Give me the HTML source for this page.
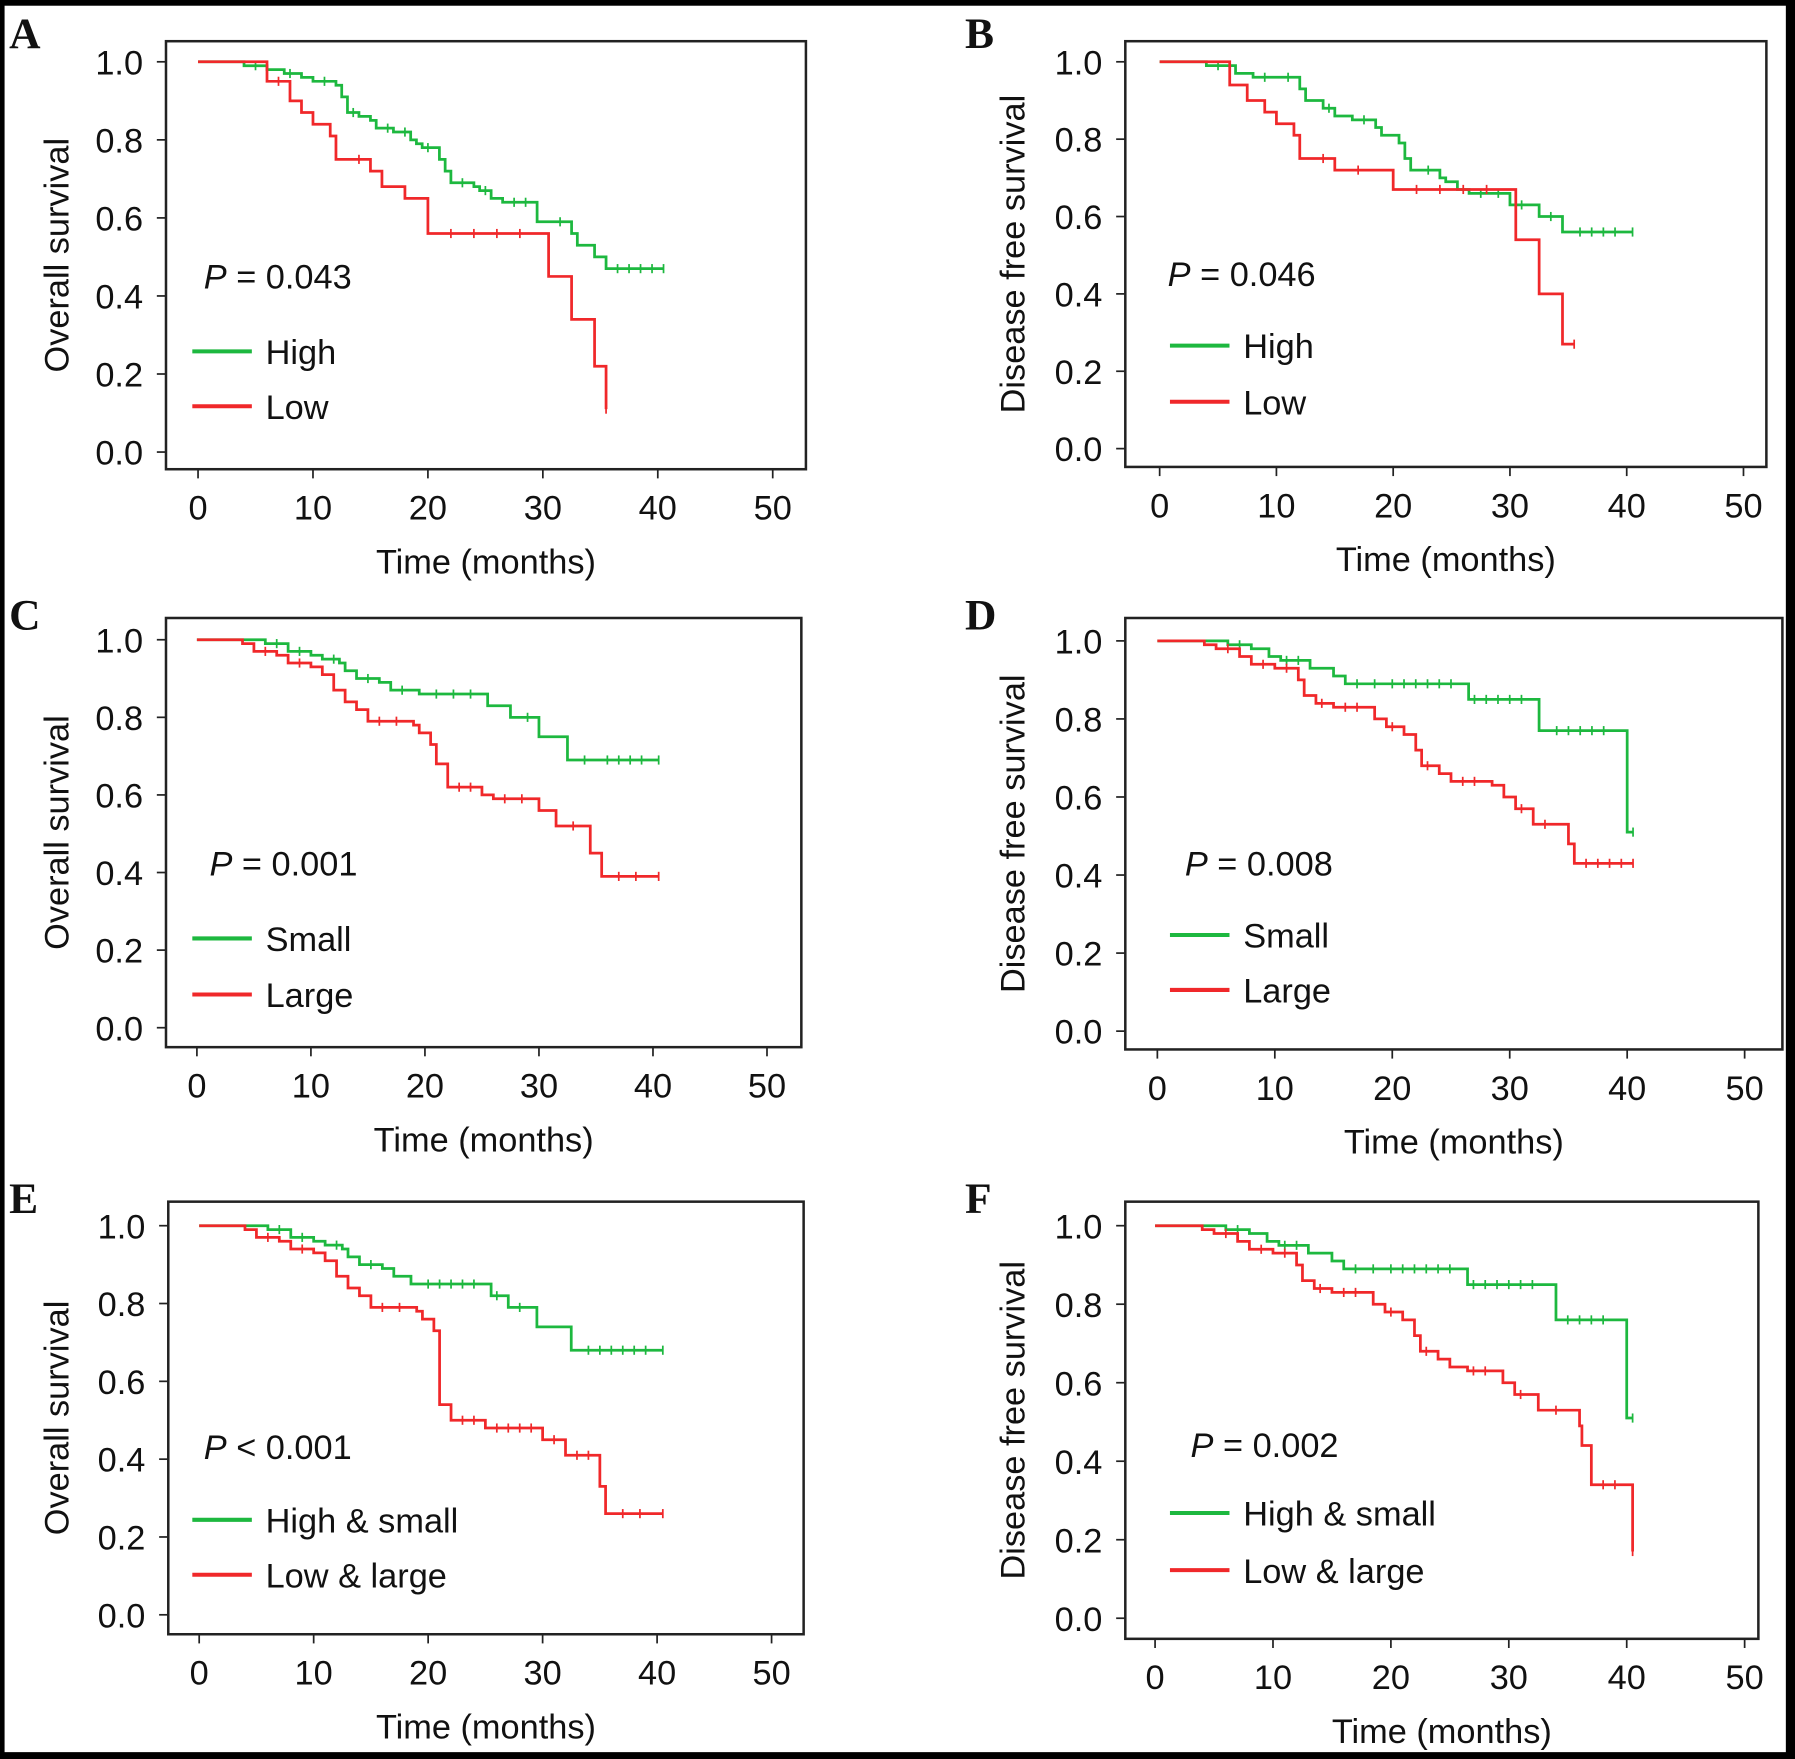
<!DOCTYPE html>
<html><head><meta charset="utf-8"><style>
html,body{margin:0;padding:0;background:#000;}
svg{display:block;}
text{font-family:"Liberation Sans",Arial,sans-serif;fill:#111;}
text.plab{font-family:"Liberation Serif",serif;font-weight:bold;}
</style></head><body>
<svg id="fig" width="1795" height="1759" viewBox="0 0 1568 1537" preserveAspectRatio="none" xmlns="http://www.w3.org/2000/svg">
<rect x="4" y="5" width="1556" height="1526" fill="#fff"/>
</svg>
<script>
// Panel A: expression High vs Low, overall survival
const aHighT=[0,4,6,7.5,9,10,12,12.5,13,14,15,15.5,17,18.5,19,19.5,21,21.5,22,24,24.5,25.5,26.5,29.5,32.5,33,34.5,35.5,40.5];
const aHighS=[1,0.99,0.98,0.97,0.96,0.95,0.94,0.91,0.87,0.86,0.85,0.83,0.82,0.80,0.79,0.78,0.75,0.72,0.69,0.68,0.67,0.65,0.64,0.59,0.56,0.53,0.50,0.47,0.47];
const aHighC=[5,8,11,13.5,16.5,18,20,23,25,27.5,28.5,31.5,36.5,37.5,38.5,39.5,40.5];
const aLowT=[0,6,8,9,10,11.5,12,15,16,18,20,30.5,32.5,34.5,35.5,35.5];
const aLowS=[1,0.95,0.90,0.87,0.84,0.81,0.75,0.72,0.68,0.65,0.56,0.45,0.34,0.22,0.11,0.11];
const aLowC=[7,14,22,24,26,28,35.5];
// Panel B: High vs Low, disease free survival
const bHighT=[0,4,6.5,8,12,12.5,14,15,16.5,18.5,19,20.5,21,21.5,24,24.5,25.5,26.5,30,32.5,34.5,40.5];
const bHighS=[1,0.99,0.97,0.96,0.93,0.90,0.88,0.86,0.85,0.83,0.81,0.79,0.75,0.72,0.70,0.69,0.67,0.66,0.63,0.60,0.56,0.56];
const bHighC=[5,9,11,14.5,17.5,23,27.5,29,31,33.5,36,37,38,39,40.5];
const bLowT=[0,6,7.5,9,10,11.5,12,15,20,30.5,32.5,34.5,35.5];
const bLowS=[1,0.94,0.90,0.87,0.84,0.81,0.75,0.72,0.67,0.54,0.40,0.27,0.27];
const bLowC=[14,17,22,24,26,28,35.5];
// Panel C: Small vs Large, overall survival
const cSmallT=[0,6,8,10,11,12.5,13,14,16,17,19.5,25.5,27.5,30,32.5,40.5];
const cSmallS=[1,0.99,0.97,0.96,0.95,0.94,0.92,0.90,0.89,0.87,0.86,0.83,0.80,0.75,0.69,0.69];
const cSmallC=[7,9,12,15,18,21,22.5,24,29,34,36,37,38,39,40.5];
const cLargeT=[0,4,5,7,8,10,11,12,13,14,15,19,19.5,20.5,21,22,25,26,30,31.5,34.5,35.5,40.5];
const cLargeS=[1,0.99,0.97,0.96,0.94,0.93,0.91,0.87,0.84,0.82,0.79,0.78,0.76,0.73,0.68,0.62,0.60,0.59,0.56,0.52,0.45,0.39,0.39];
const cLargeC=[6,9,16,17.5,23,24,27,28.5,33,37,38.5,40.5];
// Panel D: Small vs Large, disease free survival
const dSmallT=[0,6,8,9.5,10.5,13,15,16,26.5,32.5,40,40.5];
const dSmallS=[1,0.99,0.98,0.96,0.95,0.93,0.91,0.89,0.85,0.77,0.51,0.51];
const dSmallC=[7,11,12,17,18.5,20,21,22,23,24,25,27,28,29,30,31,34,35,36,37,38,40.5];
const dLargeT=[0,4,5,7,8,10,12,12.5,13.5,15,18.5,19.5,21,22,22.5,24,25,28.5,29.5,30.5,32,35,35.5,40.5];
const dLargeS=[1,0.99,0.98,0.96,0.94,0.93,0.90,0.86,0.84,0.83,0.80,0.78,0.76,0.72,0.68,0.66,0.64,0.63,0.60,0.57,0.53,0.48,0.43,0.43];
const dLargeC=[6,9,11,14,16,17,20,23,26,27,31,33,36.5,37.5,38.5,39.5,40.5];
// Panel E: High & small vs Low & large, overall survival
const eGoodT=[0,6,8,10,11,12.5,13,14,16,17,18.5,25.5,27,29.5,32.5,40.5];
const eGoodS=[1,0.99,0.97,0.96,0.95,0.94,0.92,0.90,0.89,0.87,0.85,0.82,0.79,0.74,0.68,0.68];
const eGoodC=[7,9,12,15,20,21,22,23,24,26,28,34,35,36,37,38,39,40.5];
const eBadT=[0,4,5,7,8,10,11,12,13,14,15,19,19.5,20.5,21,22,25,30,32,35,35.5,40.5];
const eBadS=[1,0.99,0.97,0.96,0.94,0.93,0.91,0.87,0.84,0.82,0.79,0.78,0.76,0.73,0.54,0.50,0.48,0.45,0.41,0.33,0.26,0.26];
const eBadC=[6,9,16,17.5,23,24,26,27,28,29,31,33,34,37,38.5,40.5];
// Panel F: High & small vs Low & large, disease free survival
const fGoodT=[0,6,8,9.5,10.5,13,15,16,26.5,34,40,40.5];
const fGoodS=[1,0.99,0.98,0.96,0.95,0.93,0.91,0.89,0.85,0.76,0.51,0.51];
const fGoodC=[7,11,12,17,18.5,20,21,22,23,24,25,27,28,29,30,31,32,35,36,37,38,40.5];
const fBadT=[0,4,5,7,8,10,12,12.5,13.5,15,18.5,19.5,21,22,22.5,24,25,26.5,29.5,30.5,32.5,36,36.2,37,40.5,40.5];
const fBadS=[1,0.99,0.98,0.96,0.94,0.93,0.90,0.86,0.84,0.83,0.80,0.78,0.76,0.72,0.68,0.66,0.64,0.63,0.60,0.57,0.53,0.49,0.44,0.34,0.17,0.17];
const fBadC=[6,9,11,14,16,17,20,23,27,28,31,34,38,39,40.5];
const xTicks=[0,10,20,30,40,50];
const yTicks=[0,0.2,0.4,0.6,0.8,1.0];
const yTickLabels=["0.0","0.2","0.4","0.6","0.8","1.0"];

const NS="http://www.w3.org/2000/svg";
const svg=document.getElementById('fig');
function mk(tag,attrs,parent){const e=document.createElementNS(NS,tag);for(const k in attrs)e.setAttribute(k,attrs[k]);(parent||svg).appendChild(e);return e;}

const panels=[
 {id:'a',L:'A',lx:8,ly:42,box:[145,36,704,410],x0:173,x50:675,y1:54,y0:395,yt:'Overall survival',ytx:50,pv:'= 0.043',pl:[178,252],leg:[168,307,355],names:['High','Low'],
  s:[[aHighT,aHighS,aHighC],[aLowT,aLowS,aLowC]]},
 {id:'b',L:'B',lx:843,ly:42,box:[983,36,1543,408],x0:1013,x50:1523,y1:54,y0:392,yt:'Disease free survival',ytx:885,pv:'= 0.046',pl:[1020,250],leg:[1022,302,351],names:['High','Low'],
  s:[[bHighT,bHighS,bHighC],[bLowT,bLowS,bLowC]]},
 {id:'c',L:'C',lx:8,ly:550,box:[145,540,700,915],x0:172,x50:670,y1:559,y0:898,yt:'Overall survival',ytx:50,pv:'= 0.001',pl:[183,765],leg:[168,820,869],names:['Small','Large'],
  s:[[cSmallT,cSmallS,cSmallC],[cLargeT,cLargeS,cLargeC]]},
 {id:'d',L:'D',lx:843,ly:550,box:[983,540,1557,917],x0:1011,x50:1524,y1:560,y0:901,yt:'Disease free survival',ytx:885,pv:'= 0.008',pl:[1035,765],leg:[1022,817,865],names:['Small','Large'],
  s:[[dSmallT,dSmallS,dSmallC],[dLargeT,dLargeS,dLargeC]]},
 {id:'e',L:'E',lx:8,ly:1060,box:[147,1050,702,1428],x0:174,x50:674,y1:1071,y0:1411,yt:'Overall survival',ytx:50,pv:'< 0.001',pl:[178,1275],leg:[168,1328,1376],names:['High & small','Low & large'],
  s:[[eGoodT,eGoodS,eGoodC],[eBadT,eBadS,eBadC]]},
 {id:'f',L:'F',lx:843,ly:1060,box:[983,1050,1536,1432],x0:1009,x50:1524,y1:1071,y0:1414,yt:'Disease free survival',ytx:885,pv:'= 0.002',pl:[1040,1273],leg:[1022,1322,1372],names:['High & small','Low & large'],
  s:[[fGoodT,fGoodS,fGoodC],[fBadT,fBadS,fBadC]]}
];
const colors=['#1db83f','#f0282a'];
panels.forEach(p=>{
  const g=mk('g',{});
  
  
  const X=t=>p.x0+(p.x50-p.x0)*t/50;
  const Y=v=>p.y0+(p.y1-p.y0)*v;
  const b=p.box;
  const lab=mk('text',{x:p.lx,y:p.ly,'font-size':38,'class':'plab'},g);
  lab.textContent=p.L;
  
  
  const frame=mk('rect',{x:b[0],y:b[1],width:b[2]-b[0],height:b[3]-b[1],fill:'none',stroke:'#222','stroke-width':2.2},g);
  
  
  yTicks.forEach((v,i)=>{
    mk('line',{x1:b[0]-8,x2:b[0],y1:Y(v),y2:Y(v),stroke:'#222','stroke-width':1.5},g);
    const t=mk('text',{x:b[0]-20,y:Y(v)+11,'font-size':30,'text-anchor':'end'},g);
    t.textContent=yTickLabels[i];
    
    
  });
  xTicks.forEach(v=>{
    mk('line',{x1:X(v),x2:X(v),y1:b[3],y2:b[3]+8,stroke:'#222','stroke-width':1.5},g);
    const t=mk('text',{x:X(v),y:b[3]+44,'font-size':30,'text-anchor':'middle'},g);
    t.textContent=v;
    
    
  });
  const xt=mk('text',{x:(b[0]+b[2])/2,y:b[3]+91,'font-size':30,'text-anchor':'middle'},g);
  xt.textContent='Time (months)';
  
  
  const cy=(b[1]+b[3])/2;
  const yt=mk('text',{x:p.ytx,y:cy,'font-size':30,'text-anchor':'middle',transform:`rotate(-90 ${p.ytx} ${cy}) translate(0 10)`},g);
  yt.textContent=p.yt;
  
  
  const pt=mk('text',{x:p.pl[0],y:p.pl[1],'font-size':30},g);
  pt.innerHTML='<tspan font-style="italic">P</tspan> '+p.pv.replace('<','&lt;');
  
  
  p.s.forEach((ser,si)=>{
    const [T,S,C]=ser;
    let d=`M${X(T[0])},${Y(S[0])}`;
    for(let i=1;i<T.length;i++){d+=` H${X(T[i])} V${Y(S[i])}`;}
    const path=mk('path',{d:d,fill:'none',stroke:colors[si],'stroke-width':2.4},g);
    
    
    C.forEach(c=>{
      let v=S[0];
      for(let i=0;i<T.length;i++){if(T[i]<=c)v=S[i];}
      const m=mk('line',{x1:X(c),x2:X(c),y1:Y(v)-4,y2:Y(v)+4,stroke:colors[si],'stroke-width':1.5},g);
      
      
    });
    const ly=p.leg[1+si];
    const ll=mk('line',{x1:p.leg[0],x2:p.leg[0]+52,y1:ly,y2:ly,stroke:colors[si],'stroke-width':3.5},g);
    
    
    const lt=mk('text',{x:p.leg[0]+64,y:ly+11,'font-size':30},g);
    lt.textContent=p.names[si];
    
    
  });
});
</script>
</body></html>
